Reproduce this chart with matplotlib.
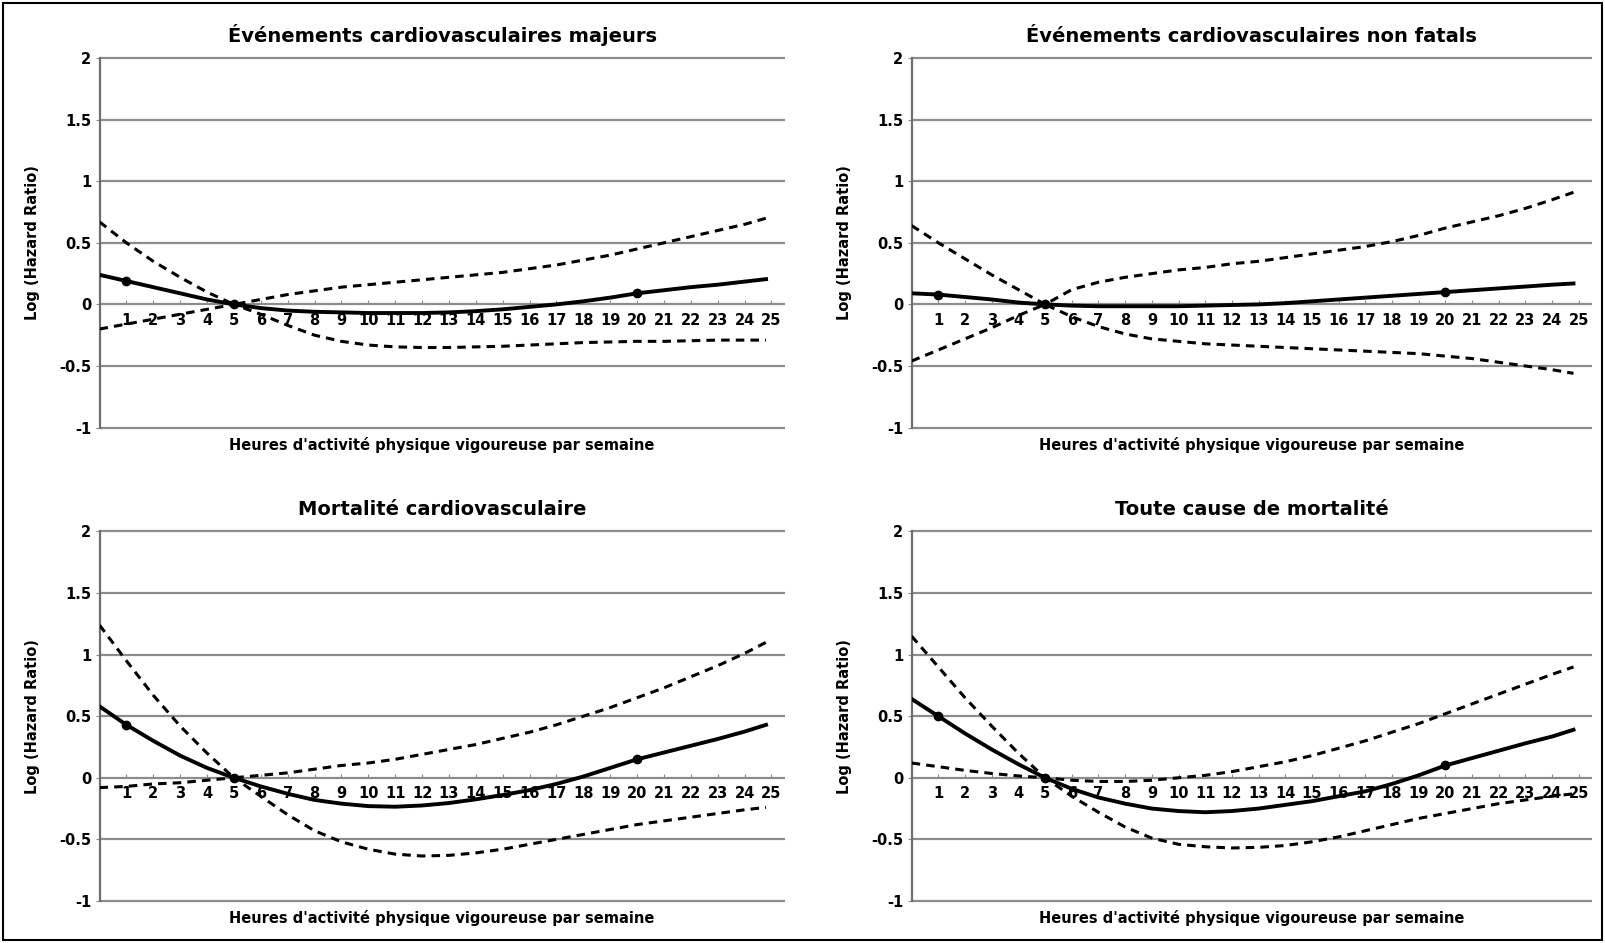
import numpy as np
import matplotlib.pyplot as plt
from matplotlib.patches import Rectangle

plt.rcParams['font.family'] = ['DejaVu Sans']
plt.rcParams['font.weight'] = 'bold'

# heures d'activite physique vigoureuse par semaine
hours = [0, 1, 2, 3, 4, 5, 6, 7, 8, 9, 10, 11, 12, 13, 14, 15, 16, 17, 18, 19, 20,
         21, 22, 23, 24, 24.8]

titles = ["Événements cardiovasculaires majeurs",
          "Événements cardiovasculaires non fatals",
          "Mortalité cardiovasculaire",
          "Toute cause de mortalité"]

# log hazard ratio (estimation)
est_majeurs = [0.24, 0.19, 0.14, 0.09, 0.04, 0.0, -0.03, -0.05, -0.06, -0.065, -0.07, -0.07, -0.07,
               -0.065, -0.055, -0.04, -0.02, 0.0, 0.025, 0.055, 0.09, 0.115, 0.14, 0.16, 0.185, 0.205]
est_nonfatals = [0.09, 0.08, 0.06, 0.04, 0.015, 0.0, -0.01, -0.015, -0.015, -0.015, -0.015, -0.01,
                 -0.005, 0.0, 0.01, 0.025, 0.04, 0.055, 0.07, 0.085, 0.1, 0.115, 0.13, 0.145, 0.16, 0.17]
est_mortcv = [0.58, 0.43, 0.3, 0.18, 0.08, 0.0, -0.07, -0.13, -0.18, -0.21, -0.23, -0.235, -0.225,
              -0.205, -0.175, -0.14, -0.1, -0.05, 0.01, 0.08, 0.15, 0.205, 0.26, 0.315, 0.375, 0.43]
est_toute = [0.64, 0.5, 0.36, 0.23, 0.11, 0.0, -0.09, -0.16, -0.21, -0.25, -0.27, -0.28, -0.27,
             -0.25, -0.22, -0.19, -0.15, -0.11, -0.05, 0.02, 0.1, 0.16, 0.22, 0.28, 0.335, 0.39]

# intervalles de confiance (bornes tracees en pointilles)
ic_a_majeurs = [0.67, 0.5, 0.35, 0.22, 0.1, 0.0, 0.04, 0.08, 0.11, 0.14, 0.16, 0.18, 0.2, 0.22,
                0.24, 0.26, 0.29, 0.32, 0.36, 0.4, 0.45, 0.5, 0.55, 0.6, 0.65, 0.7]
ic_b_majeurs = [-0.2, -0.16, -0.12, -0.08, -0.04, 0.0, -0.08, -0.17, -0.25, -0.3, -0.33, -0.345,
                -0.35, -0.35, -0.345, -0.34, -0.33, -0.32, -0.31, -0.305, -0.3, -0.3, -0.295,
                -0.29, -0.29, -0.29]
ic_a_nonfatals = [0.64, 0.5, 0.37, 0.24, 0.12, 0.0, 0.12, 0.18, 0.22, 0.25, 0.28, 0.3, 0.33, 0.35,
                  0.38, 0.41, 0.44, 0.47, 0.51, 0.56, 0.62, 0.67, 0.72, 0.78, 0.85, 0.91]
ic_b_nonfatals = [-0.46, -0.37, -0.28, -0.19, -0.09, 0.0, -0.1, -0.18, -0.24, -0.28, -0.3, -0.32,
                  -0.33, -0.34, -0.35, -0.36, -0.37, -0.38, -0.39, -0.4, -0.42, -0.44, -0.47,
                  -0.5, -0.53, -0.56]
ic_a_mortcv = [1.24, 0.95, 0.67, 0.42, 0.2, 0.0, 0.02, 0.04, 0.07, 0.1, 0.12, 0.15, 0.19, 0.23,
               0.27, 0.32, 0.37, 0.43, 0.5, 0.57, 0.65, 0.73, 0.82, 0.91, 1.01, 1.1]
ic_b_mortcv = [-0.08, -0.07, -0.05, -0.04, -0.02, 0.0, -0.15, -0.3, -0.43, -0.52, -0.58, -0.62,
               -0.635, -0.63, -0.61, -0.58, -0.54, -0.5, -0.46, -0.42, -0.38, -0.35, -0.32,
               -0.29, -0.26, -0.24]
ic_a_toute = [1.15, 0.9, 0.65, 0.42, 0.2, 0.0, -0.02, -0.03, -0.03, -0.02, 0.0, 0.02, 0.05, 0.09,
              0.13, 0.18, 0.24, 0.3, 0.37, 0.44, 0.52, 0.6, 0.68, 0.76, 0.84, 0.9]
ic_b_toute = [0.12, 0.09, 0.06, 0.035, 0.015, 0.0, -0.15, -0.28, -0.4, -0.49, -0.54, -0.56, -0.57,
              -0.565, -0.55, -0.52, -0.48, -0.43, -0.38, -0.33, -0.29, -0.25, -0.21, -0.18,
              -0.15, -0.13]

estimates = [est_majeurs, est_nonfatals, est_mortcv, est_toute]
ic_a = [ic_a_majeurs, ic_a_nonfatals, ic_a_mortcv, ic_a_toute]
ic_b = [ic_b_majeurs, ic_b_nonfatals, ic_b_mortcv, ic_b_toute]

marker_idx = [1, 5, 20]
xticks = list(range(1, 26))
yticks = [-1, -0.5, 0, 0.5, 1, 1.5, 2]
yticklabels = ["-1", "-0.5", "0", "0.5", "1", "1.5", "2"]

fig = plt.figure(figsize=(16.05, 9.43), dpi=100)
fig.add_artist(Rectangle((0.002, 0.003), 0.996, 0.994, transform=fig.transFigure,
                         fill=False, edgecolor='black', linewidth=1.5))

positions = [[0.062, 0.544, 0.427, 0.397],
             [0.568, 0.544, 0.424, 0.397],
             [0.062, 0.042, 0.427, 0.397],
             [0.568, 0.042, 0.424, 0.397]]

for i in range(4):
    ax = fig.add_axes(positions[i])
    x = np.array(hours)
    for yv in yticks:
        ax.axhline(yv, color='#8c8c8c', linewidth=1.6, zorder=1)
    ax.plot(x, ic_a[i], color='black', linestyle=(0, (2.8, 2.0)), linewidth=2.2, zorder=3)
    ax.plot(x, ic_b[i], color='black', linestyle=(0, (2.8, 2.0)), linewidth=2.2, zorder=3)
    ax.plot(x, estimates[i], color='black', linewidth=2.8, zorder=4)
    ax.plot(x[marker_idx], np.array(estimates[i])[marker_idx], 'o', color='black',
            markersize=6, zorder=5)

    ax.set_xlim(0, 25.5)
    ax.set_ylim(-1.02, 2.02)
    ax.spines['top'].set_visible(False)
    ax.spines['right'].set_visible(False)
    ax.spines['left'].set_bounds(-1, 2)
    ax.spines['left'].set_color('#6e6e6e')
    ax.spines['left'].set_linewidth(1.6)
    ax.spines['bottom'].set_position(('data', 0))
    ax.spines['bottom'].set_visible(False)

    ax.set_xticks(xticks)
    ax.set_xticklabels([str(t) for t in xticks], fontsize=10.5, fontweight='bold')
    ax.tick_params(axis='x', direction='in', length=3, color='#8c8c8c', pad=6)
    ax.set_yticks(yticks)
    ax.set_yticklabels(yticklabels, fontsize=10.5, fontweight='bold')
    ax.tick_params(axis='y', length=3, color='#8c8c8c', pad=3)

    ax.set_title(titles[i], fontsize=14, fontweight='bold', pad=10)
    ax.set_ylabel("Log (Hazard Ratio)", fontsize=10.5, fontweight='bold', labelpad=14)
    ax.text(0.5, -0.04, "Heures d'activité physique vigoureuse par semaine",
            transform=ax.transAxes, ha='center', va='center', fontsize=10.5, fontweight='bold')

fig.savefig("out.png", dpi=100)
